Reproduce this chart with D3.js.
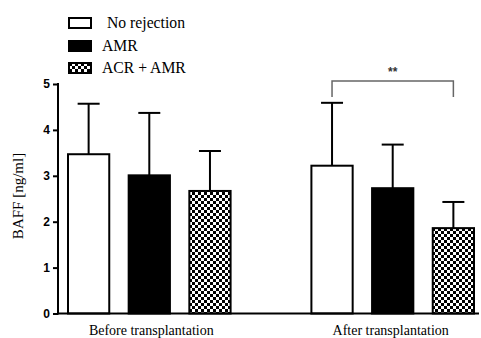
<!DOCTYPE html>
<html>
<head>
<meta charset="utf-8">
<script src="https://cdn.jsdelivr.net/npm/d3@7"></script>
<style>
  body { margin: 0; background: #fff; }
  svg { display: block; }
</style>
</head>
<body>
<svg id="chart" width="481" height="338"></svg>
<script>
// data
var groups = ["Before transplantation", "After transplantation"];
var series = ["No rejection", "AMR", "ACR + AMR"];
var means = [
  [3.47, 3.01, 2.67],
  [3.22, 2.73, 1.86]
];
var sds = [
  [1.10, 1.36, 0.87],
  [1.37, 0.95, 0.57]
];
var yTicks = [0, 1, 2, 3, 4, 5];
var sigLabel = "**";
// bracket between After / No rejection and After / ACR + AMR
var sigPair = [1, 0, 2];

var svg = d3.select("#chart");

var defs = svg.append("defs");
var pat = defs.append("pattern")
  .attr("id", "checker")
  .attr("patternUnits", "userSpaceOnUse")
  .attr("width", 6)
  .attr("height", 6);
pat.append("rect").attr("width", 6).attr("height", 6).attr("fill", "#fff");
pat.append("rect").attr("width", 3).attr("height", 3).attr("fill", "#000");
pat.append("rect").attr("x", 3).attr("y", 3).attr("width", 3).attr("height", 3).attr("fill", "#000");

var fills = ["#fff", "#000", "url(#checker)"];

var y = d3.scaleLinear().domain([0, 5]).range([313.5, 84]);

var x0 = d3.scaleBand()
  .domain(groups)
  .range([68, 474])
  .paddingInner(0.332)
  .paddingOuter(0);

var x1 = d3.scaleBand()
  .domain(series)
  .range([0, x0.bandwidth()])
  .paddingInner(0.32)
  .paddingOuter(0);

var axisX = 58;

// bars
var g = svg.append("g");
groups.forEach(function(grp, gi) {
  series.forEach(function(s, si) {
    var bx = x0(grp) + x1(s);
    var bw = x1.bandwidth();
    var m = means[gi][si];
    var top = m + sds[gi][si];
    var cx = bx + bw / 2;
    // error bar
    g.append("line")
      .attr("x1", cx).attr("x2", cx)
      .attr("y1", y(m)).attr("y2", y(top))
      .attr("stroke", "#000").attr("stroke-width", 2);
    g.append("line")
      .attr("x1", cx - 11).attr("x2", cx + 11)
      .attr("y1", y(top)).attr("y2", y(top))
      .attr("stroke", "#000").attr("stroke-width", 2);
    g.append("rect")
      .attr("x", bx)
      .attr("y", y(m))
      .attr("width", bw)
      .attr("height", y(0) - y(m))
      .attr("fill", fills[si])
      .attr("stroke", "#000")
      .attr("stroke-width", 2);
  });
});

// y axis
var yAxis = d3.axisLeft(y)
  .tickValues(yTicks)
  .tickSize(5)
  .tickPadding(3)
  .tickFormat(d3.format("d"));

var ya = svg.append("g")
  .attr("transform", "translate(" + axisX + ",0)")
  .call(yAxis);
ya.select(".domain").remove();
ya.append("line")
  .attr("x1", 0).attr("x2", 0)
  .attr("y1", y(5) - 1).attr("y2", y(0) + 1)
  .attr("stroke", "#000").attr("stroke-width", 2);
ya.selectAll(".tick line").attr("stroke", "#000").attr("stroke-width", 2);
ya.selectAll(".tick text")
  .attr("fill", "#000")
  .style("font-family", "Liberation Sans, Arial, sans-serif")
  .style("font-size", "12px")
  .style("font-weight", "bold");

// x axis line
svg.append("line")
  .attr("x1", axisX - 1).attr("x2", 479)
  .attr("y1", y(0)).attr("y2", y(0))
  .attr("stroke", "#000").attr("stroke-width", 2);

// x labels
svg.selectAll(".xlab")
  .data(groups)
  .enter()
  .append("text")
  .attr("class", "xlab")
  .attr("x", function(d, i) { return x0(d) + x0.bandwidth() / 2 + (i === 0 ? 2 : -2); })
  .attr("y", 335)
  .attr("text-anchor", "middle")
  .style("font-family", "Liberation Serif, Times New Roman, serif")
  .style("font-size", "14px")
  .text(function(d) { return d; });

// y title
svg.append("text")
  .attr("transform", "translate(23,196) rotate(-90)")
  .attr("text-anchor", "middle")
  .style("font-family", "Liberation Serif, Times New Roman, serif")
  .style("font-size", "15px")
  .text("BAFF [ng/ml]");

// significance bracket
var bxA = x0(groups[sigPair[0]]) + x1(series[sigPair[1]]) + x1.bandwidth() / 2;
var bxB = x0(groups[sigPair[0]]) + x1(series[sigPair[2]]) + x1.bandwidth() / 2;
var brY = 81, brTick = 16;
svg.append("path")
  .attr("d", "M" + bxA + "," + (brY + brTick) + "V" + brY + "H" + bxB + "V" + (brY + brTick))
  .attr("fill", "none")
  .attr("stroke", "#666")
  .attr("stroke-width", 1.5);
svg.append("text")
  .attr("x", (bxA + bxB) / 2)
  .attr("y", 76)
  .attr("text-anchor", "middle")
  .style("font-family", "Liberation Sans, Arial, sans-serif")
  .style("font-size", "12px")
  .style("font-weight", "bold")
  .attr("fill", "#333")
  .text(sigLabel);

// legend
var leg = svg.append("g");
var legRows = [23, 46, 68];
series.forEach(function(s, i) {
  leg.append("rect")
    .attr("x", 69)
    .attr("y", legRows[i] - 5)
    .attr("width", 22)
    .attr("height", 10)
    .attr("fill", fills[i])
    .attr("stroke", "#000")
    .attr("stroke-width", 2);
  leg.append("text")
    .attr("x", i === 0 ? 107 : 102)
    .attr("y", legRows[i] + 5)
    .style("font-family", "Liberation Serif, Times New Roman, serif")
    .style("font-size", "15.7px")
    .text(s);
});
</script>
</body>
</html>
